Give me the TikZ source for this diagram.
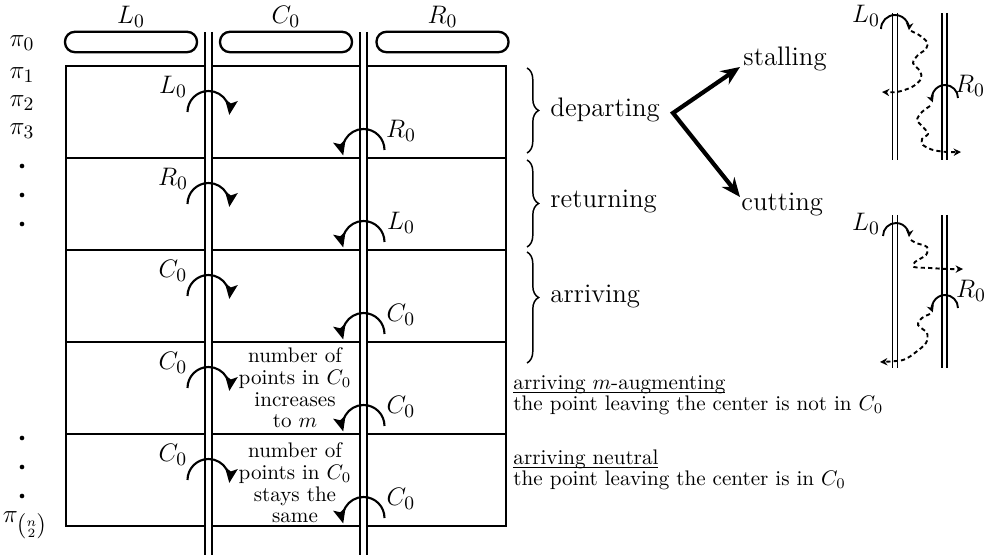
\documentclass[tikz,border=0pt]{standalone}
\usepackage{amsmath}
\usepackage{tikz}
\usetikzlibrary{arrows.meta}
\usetikzlibrary{decorations.pathreplacing}
\tikzstyle{pill} = [rectangle, rounded corners=4.7pt, draw=black, line width=1.1pt, minimum width=2.2cm, minimum height=0.34cm, inner sep=0pt]
\tikzstyle{rail} = [double, line width=1pt, double distance=2.3pt]
\tikzstyle{minirail} = [double, line width=0.7pt, double distance=1.6pt]
\tikzstyle{rowline} = [line width=0.5pt]
\tikzstyle{hop} = [line width=1pt, -{Stealth[length=7pt, width=6pt, inset=1.5pt]}]
\tikzstyle{minihop} = [line width=0.9pt, -{Stealth[length=3.5pt, width=3.5pt]}]
\tikzstyle{wiggle} = [line width=0.9pt, dash pattern=on 2pt off 1.5pt, -{Stealth[length=3.5pt, width=3.5pt]}]
\tikzstyle{forkarrow} = [line width=2pt, line join=miter, {Stealth[length=9pt, width=7.5pt]}-{Stealth[length=9pt, width=7.5pt]}]
\tikzstyle{bracket} = [decorate, decoration={brace, amplitude=5.5pt}, line width=0.7pt]
\tikzstyle{bigdot} = [circle, fill=black, inner sep=0pt, minimum size=2.2pt]
\tikzstyle{rowtext} = [align=center]
\tikzstyle{lbl} = [font=\fontsize{12.5}{15}\selectfont]
\tikzstyle{phase} = [anchor=west, font=\fontsize{12.7}{15}\selectfont]

\begin{document}
\begin{tikzpicture}[x=0.016667cm, y=-0.016667cm]
\useasboundingbox (0,0) rectangle (984,558);

% the three classes on top
\node [pill] (pillL) at (131,42) {};
\node [pill] (pillC) at (286,42) {};
\node [pill] (pillR) at (442.5,42) {};
\node [lbl, above of = pillL, node distance=0.42cm] (nameL) {$L_0$};
\node [lbl, above of = pillC, node distance=0.42cm] (nameC) {$C_0$};
\node [lbl, above of = pillR, node distance=0.42cm] (nameR) {$R_0$};

% table of rounds
\draw [rowline] (66,66) rectangle (506,526);
\draw [rowline] (66,158) -- (506,158);
\draw [rowline] (66,250) -- (506,250);
\draw [rowline] (66,342) -- (506,342);
\draw [rowline] (66,434) -- (506,434);

\draw [rail] (208.5,32) -- (208.5,555);
\draw [rail] (363.5,32) -- (363.5,555);

% permutations
\node [lbl] (p0) at (22,43) {$\pi_0$};
\node [lbl] (p1) at (22,75) {$\pi_1$};
\node [lbl] (p2) at (22,103) {$\pi_2$};
\node [lbl] (p3) at (22,131) {$\pi_3$};
\node [bigdot] (d1) at (22,166) {};
\node [bigdot] (d2) at (22,195) {};
\node [bigdot] (d3) at (22,224) {};
\node [bigdot] (d4) at (22,438) {};
\node [bigdot] (d5) at (22,467) {};
\node [bigdot] (d6) at (22,496) {};
\node [lbl] (pn) at (25,525) {$\pi_{\genfrac(){0pt}{3}{n}{2}}$};

% departing
\draw [hop] (187.5,112) arc (180:368:21);
\node [lbl] (l1) at (173,87) {$L_0$};
\draw [hop] (384.5,150) arc (0:-195:21);
\node [lbl] (r1) at (401,131) {$R_0$};

% returning
\draw [hop] (187.5,204) arc (180:368:21);
\node [lbl] (l2) at (173,179) {$R_0$};
\draw [hop] (384.5,242) arc (0:-195:21);
\node [lbl] (r2) at (401,223) {$L_0$};

% arriving
\draw [hop] (187.5,296) arc (180:368:21);
\node [lbl] (l3) at (173,271) {$C_0$};
\draw [hop] (384.5,334) arc (0:-195:21);
\node [lbl] (r3) at (401,315) {$C_0$};

\draw [hop] (187.5,388) arc (180:368:21);
\node [lbl] (l4) at (173,363) {$C_0$};
\draw [hop] (384.5,426) arc (0:-195:21);
\node [lbl] (r4) at (401,407) {$C_0$};
\node [rowtext] (grow) at (295,388) {number of\\[-1.7pt] points in $C_0$\\[-1.7pt] increases\\[-1.7pt] to $m$};

\draw [hop] (187.5,480) arc (180:368:21);
\node [lbl] (l5) at (173,455) {$C_0$};
\draw [hop] (384.5,518) arc (0:-195:21);
\node [lbl] (r5) at (401,499) {$C_0$};
\node [rowtext] (keep) at (295,483) {number of\\[-1.7pt] points in $C_0$\\[-1.7pt] stays the\\[-1.7pt] same};

% phases
\draw [bracket] (527,68) -- (527,153);
\draw [bracket] (527,160) -- (527,247);
\draw [bracket, decoration={aspect=0.41}] (527,252) -- (527,363);
\node [phase] (dep) at (543,110) {departing};
\node [phase] (ret) at (543,202) {returning};
\node [phase] (arr) at (543,297) {arriving};

\node [phase] (stalling) at (736,59) {stalling};
\node [phase] (cutting) at (734,205) {cutting};
\coordinate (split) at (673,113);
\draw [forkarrow] ([shift={(4,8)}]stalling.west) -- (split) -- ([shift={(6,-8)}]cutting.west);

\node [anchor=north west, align=left] (augm) at (506,368) {\underline{\smash[b]{arriving $m$-augmenting}}\\[-2pt] the point leaving the center is not in $C_0$};
\node [anchor=north west, align=left] (neut) at (506,442) {\underline{\smash[b]{arriving neutral}}\\[-2pt] the point leaving the center is in $C_0$};

% stalling sketch
\draw [minirail] (895,13) -- (895,160);
\draw [minirail] (944.5,13) -- (944.5,160);
\node [lbl] (sl) at (866,16) {$L_0$};
\draw [minihop] (881,29) arc (180:365:14);
\draw [wiggle] plot [smooth] coordinates {(911,31) (919,35) (927,42) (926,49) (918,55) (913,63) (920,71) (921,79) (912,87) (897,92) (882,92)};
\node [lbl] (sr) at (970,86) {$R_0$};
\draw [minihop] (958,98) arc (0:-200:13);
\draw [wiggle] plot [smooth] coordinates {(930,106) (922,112) (917,120) (923,127) (928,134) (922,139) (923,145) (933,150) (947,152) (961,152)};

% cutting sketch
\draw [minirail] (895,215) -- (895,368);
\draw [minirail] (944.5,215) -- (944.5,368);
\node [lbl] (cl) at (866,224) {$L_0$};
\draw [minihop] (883,236) arc (180:365:13);
\draw [wiggle] plot [smooth] coordinates {(911,240) (916,243) (927,247) (926,255) (915,262) (914,267) (930,268) (947,269) (963,269)};
\node [lbl] (cr) at (971,291) {$R_0$};
\draw [minihop] (958,308) arc (0:-200:13);
\draw [wiggle] plot [smooth] coordinates {(930,314) (922,318) (918,325) (927,333) (926,343) (916,352) (903,360) (880,362)};

\end{tikzpicture}
\end{document}
